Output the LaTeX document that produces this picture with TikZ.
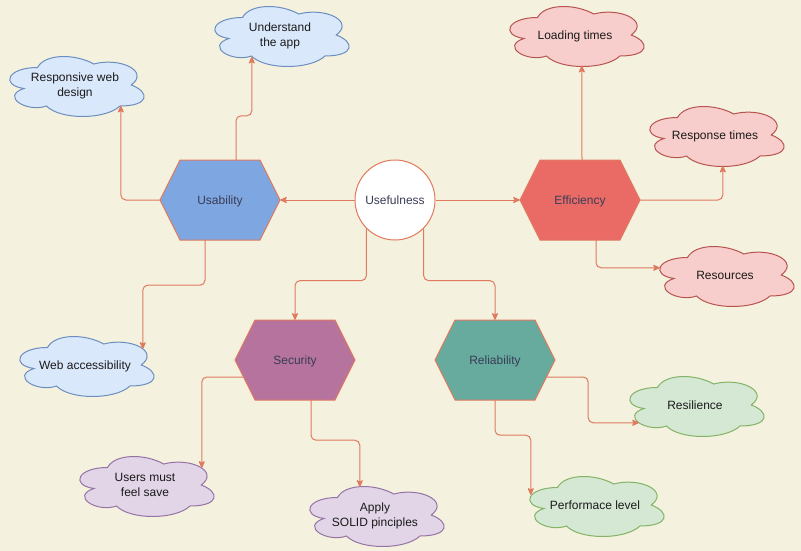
\documentclass[tikz,border=0pt]{standalone}
\usepackage{fontspec}
\setmainfont{Liberation Sans}
\usetikzlibrary{calc,arrows.meta}
\definecolor{bgc}{HTML}{F4F1DE}
\definecolor{edgec}{HTML}{E07A5F}
\definecolor{hexfont}{HTML}{393C56}
\definecolor{cloudfont}{HTML}{1A1A1A}
\definecolor{usac}{HTML}{7EA6E0}
\definecolor{effc}{HTML}{EA6B66}
\definecolor{secc}{HTML}{B5739D}
\definecolor{relc}{HTML}{67AB9F}
\definecolor{bluef}{HTML}{DAE8FC}\definecolor{blued}{HTML}{6C8EBF}
\definecolor{redf}{HTML}{F8CECC}\definecolor{redd}{HTML}{B85450}
\definecolor{purf}{HTML}{E1D5E7}\definecolor{purd}{HTML}{9673A6}
\definecolor{grnf}{HTML}{D5E8D4}\definecolor{grnd}{HTML}{82B366}
\newcommand\lnstrut{\rule[-3.04pt]{0pt}{14.4pt}}
\tikzset{
  conn/.style={draw=edgec, line width=1pt, rounded corners=5pt,
    -{Stealth[length=8pt,width=7pt,inset=2pt,round]}},
  dtext/.style={font=\fontsize{12}{14.4}\selectfont},
  hextext/.style={dtext, minimum width=120pt, minimum height=80pt, inner sep=0pt,
    text=hexfont},
  hexline/.style={draw=edgec, line width=1pt, line join=miter},
  cloudtext/.style={dtext, minimum width=150pt, minimum height=70pt, inner sep=0pt,
    align=center, text=cloudfont},
  cloudline/.style={line width=1pt},
}
\newcommand\hexanode[5]{%
  \filldraw[hexline, fill=#4] ({#2-60},{#3}) -- ({#2-40},{#3-40}) -- ({#2+40},{#3-40})
    -- ({#2+60},{#3}) -- ({#2+40},{#3+40}) -- ({#2-40},{#3+40}) -- cycle;
  \node[hextext] (#1) at (#2,#3) {\lnstrut#5};
}
\newcommand\cloudnode[6]{%
  \begin{scope}[shift={(#2,#3)}, x=150pt, y=-70pt]
    \filldraw[cloudline, fill=#4, draw=#5] (.25,.25)
      .. controls (.05,.25) and (0,.5) .. (.16,.55)
      .. controls (0,.66) and (.18,.9) .. (.31,.8)
      .. controls (.4,1) and (.7,1) .. (.8,.8)
      .. controls (1,.8) and (1,.6) .. (.875,.5)
      .. controls (1,.3) and (.8,.1) .. (.625,.2)
      .. controls (.5,.05) and (.3,.05) .. (.25,.25) -- cycle;
    \node[cloudtext] (#1) at (.5,.5) {#6};
  \end{scope}
}
\begin{document}
\begin{tikzpicture}[x=1pt, y=-1pt]
\fill[bgc] (0,0) rectangle (801,551);
\useasboundingbox (0,0) rectangle (801,551);

% central node and hexagons
\node[circle, draw=edgec, fill=white, line width=1pt, minimum size=80pt,
      inner sep=0pt, text=hexfont, dtext] (uf) at (395,200) {\lnstrut Usefulness};
\hexanode{us}{220}{200}{usac}{Usability}
\hexanode{ef}{580}{200}{effc}{Efficiency}
\hexanode{se}{295}{360}{secc}{Security}
\hexanode{re}{495}{360}{relc}{Reliability}

% clouds
\cloudnode{ua}{205}{0}{bluef}{blued}{\lnstrut Understand\\\lnstrut the app}
\cloudnode{rw}{0}{50}{bluef}{blued}{\lnstrut Responsive web\\\lnstrut design}
\cloudnode{wa}{10}{330}{bluef}{blued}{\lnstrut Web accessibility}
\cloudnode{lt}{500}{0}{redf}{redd}{\lnstrut Loading times}
\cloudnode{rt}{640}{100}{redf}{redd}{\lnstrut Response times}
\cloudnode{rs}{650}{240}{redf}{redd}{\lnstrut Resources}
\cloudnode{um}{70}{450}{purf}{purd}{\lnstrut Users must\\\lnstrut feel save}
\cloudnode{ap}{300}{480}{purf}{purd}{\lnstrut Apply\\\lnstrut SOLID pinciples}
\cloudnode{rl}{620}{370}{grnf}{grnd}{\lnstrut Resilience}
\cloudnode{pl}{520}{470}{grnf}{grnd}{\lnstrut Performace level}

% connectors
\draw[conn] (uf.west) -- (us.east);
\draw[conn] (uf.east) -- (ef.west);
\draw[conn] (uf.-135) -- ++(0,52) -| (se.north);
\draw[conn] (uf.-45) -- ++(0,52) -| (re.north);

\draw[conn] ($(us.north)+(16,0)$) -- ++(0,-44) -| ($(ua.north west)+(47,57)$);
\draw[conn] (us.west) -| ($(rw.north west)+(121,56)$);
\draw[conn] ($(us.south)+(-15,0)$) -- ++(0,45) -| ($(wa.north west)+(133,19)$);

\draw[conn] ($(ef.north)+(2,0)$) -- ($(lt.north west)+(82,66)$);
\draw[conn] (ef.east) -| ($(rt.north west)+(83,66)$);
\draw[conn] ($(ef.south)+(16,0)$) |- ($(rs.north west)+(10,28)$);

\draw[conn] ($(se.west)+(8,17)$) -| ($(um.north west)+(132,18)$);
\draw[conn] ($(se.south)+(16,0)$) -- ++(0,40) -| ($(ap.north west)+(60,7)$);

\draw[conn] ($(re.east)+(-8,17)$) -- ++(41,0) |- ($(rl.north west)+(19,53)$);
\draw[conn] (re.south) -- ++(0,35) -| ($(pl.north west)+(11,25)$);
\end{tikzpicture}
\end{document}
